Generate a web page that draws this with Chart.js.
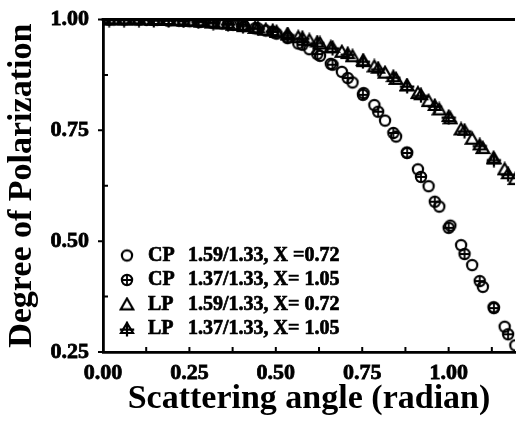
<!DOCTYPE html>
<html><head><meta charset="utf-8">
<script src="https://cdn.jsdelivr.net/npm/chart.js@4"></script>
<style>html,body{margin:0;padding:0;background:#fff;overflow:hidden}</style>
</head><body>
<canvas id="c" width="520" height="429"></canvas>
<script>
// ---- data ----
const SERIES_LABELS = [
  "CP 1.59/1.33, X =0.72",
  "CP 1.37/1.33, X= 1.05",
  "LP 1.59/1.33, X= 0.72",
  "LP 1.37/1.33, X= 1.05"
];
// X = 0.72 series (denser sampling)
const ANGLE_A = [0.000,0.031,0.063,0.094,0.126,0.157,0.188,0.220,0.251,0.283,0.314,0.345,0.377,0.408,0.440,0.471,0.502,0.534,0.565,0.597,0.628,0.659,0.691,0.722,0.754,0.785,0.816,0.848,0.879,0.911,0.942,0.973,1.005,1.036,1.068,1.099,1.130,1.162,1.193];
const CP_159 = [1.000,1.000,1.000,1.000,0.999,0.999,0.998,0.997,0.996,0.995,0.993,0.991,0.988,0.985,0.980,0.975,0.968,0.958,0.946,0.933,0.918,0.900,0.882,0.858,0.834,0.807,0.772,0.736,0.700,0.662,0.624,0.578,0.535,0.491,0.446,0.397,0.351,0.307,0.265];
const LP_159 = [1.000,1.000,1.000,1.000,1.000,0.999,0.999,0.998,0.997,0.995,0.993,0.991,0.988,0.985,0.981,0.977,0.972,0.966,0.960,0.953,0.946,0.937,0.927,0.917,0.906,0.894,0.880,0.866,0.851,0.834,0.816,0.797,0.777,0.752,0.731,0.710,0.688,0.662,0.640];
// X = 1.05 series
const ANGLE_B = [0.018,0.061,0.104,0.147,0.190,0.233,0.276,0.319,0.362,0.405,0.448,0.491,0.534,0.577,0.620,0.664,0.708,0.752,0.796,0.840,0.880,0.920,0.960,1.000,1.046,1.090,1.131,1.172];
const CP_137 = [1.000,1.000,1.000,0.999,0.998,0.997,0.995,0.993,0.990,0.988,0.980,0.972,0.960,0.943,0.922,0.898,0.868,0.830,0.792,0.744,0.699,0.645,0.589,0.530,0.471,0.410,0.349,0.290];
const LP_137 = [1.000,1.000,1.000,0.999,0.999,0.998,0.996,0.993,0.990,0.986,0.980,0.974,0.966,0.958,0.948,0.936,0.922,0.906,0.889,0.870,0.850,0.829,0.805,0.780,0.749,0.716,0.684,0.651];

const X_TICKS = [0, 0.25, 0.5, 0.75, 1.0];
const X_MINOR = [0.125, 0.375, 0.625, 0.875, 1.125];
const Y_TICKS = [0.25, 0.5, 0.75, 1.0];
const Y_MINOR = [0.375, 0.625, 0.875];
const X_TITLE = "Scattering angle (radian)";
const Y_TITLE = "Degree of Polarization";

// ---- marker glyphs ----
function glyph(draw){
  const c = document.createElement('canvas');
  c.width = 16; c.height = 16;
  const g = c.getContext('2d');
  g.strokeStyle = '#000'; g.fillStyle = '#000'; g.lineWidth = 2.2;
  draw(g);
  return c;
}
const G_CIRCLE = glyph(g => { g.beginPath(); g.arc(8,8,5.1,0,Math.PI*2); g.stroke(); });
const G_CCROSS = glyph(g => { g.beginPath(); g.arc(8,8,5.1,0,Math.PI*2); g.stroke();
  g.lineWidth = 1.8; g.beginPath(); g.moveTo(8,3); g.lineTo(8,13); g.moveTo(3,8); g.lineTo(13,8); g.stroke(); });
const G_TRI = glyph(g => { g.beginPath(); g.moveTo(8,2); g.lineTo(14.2,12.8); g.lineTo(1.8,12.8); g.closePath(); g.stroke(); });
const G_TCROSS = glyph(g => { g.beginPath(); g.moveTo(8,2); g.lineTo(14,12); g.lineTo(2,12); g.closePath(); g.stroke();
  g.beginPath(); g.moveTo(8,0.8); g.lineTo(8,15.5); g.moveTo(0.8,8.6); g.lineTo(15.2,8.6); g.stroke(); });
const GLYPHS = [G_CIRCLE, G_CCROSS, G_TRI, G_TCROSS];

function pts(xs, ys){ return xs.map((x,i)=>({x:x, y:ys[i]})); }

const FONT = "'Liberation Serif','Times New Roman',serif";

const frame = {
  id: 'frame',
  afterDatasetsDraw(chart){
    const {ctx, chartArea:a, scales} = chart;
    const x = scales.x, y = scales.y;
    ctx.save();
    ctx.strokeStyle = '#000';
    ctx.lineWidth = 2.8;
    ctx.beginPath(); ctx.moveTo(a.left-1.4, a.top); ctx.lineTo(a.right, a.top); ctx.stroke();
    ctx.lineWidth = 2;
    ctx.beginPath();
    X_TICKS.concat(X_MINOR).forEach(v => { const px = x.getPixelForValue(v); ctx.moveTo(px, a.bottom); ctx.lineTo(px, a.bottom-5); });
    Y_TICKS.forEach(v => { const py = y.getPixelForValue(v); ctx.moveTo(a.left, py); ctx.lineTo(a.left-5, py); });
    Y_MINOR.forEach(v => { const py = y.getPixelForValue(v); ctx.moveTo(a.left, py); ctx.lineTo(a.left+5, py); });
    ctx.stroke();
    // legend inside plot area
    ctx.fillStyle = '#000';
    ctx.strokeStyle = '#000';
    ctx.lineWidth = 0.7;
    ctx.font = "bold 20px " + FONT;
    ctx.textBaseline = 'middle';
    const x0 = a.left + 24, y0 = a.top + 236, dy = 24.5;
    SERIES_LABELS.forEach((lab, i) => {
      const yy = y0 + i*dy;
      ctx.drawImage(GLYPHS[i], x0-8, yy-8);
      const sp = lab.indexOf(' ');
      const t1 = lab.slice(0, sp), t2 = lab.slice(sp+1);
      ctx.fillText(t1, a.left + 45, yy); ctx.strokeText(t1, a.left + 45, yy);
      ctx.fillText(t2, a.left + 85, yy); ctx.strokeText(t2, a.left + 85, yy);
    });
    ctx.restore();
  }
};

new Chart(document.getElementById('c'), {
  type: 'scatter',
  data: {
    datasets: [
      {label: SERIES_LABELS[0], data: pts(ANGLE_A, CP_159), pointStyle: G_CIRCLE},
      {label: SERIES_LABELS[1], data: pts(ANGLE_B, CP_137), pointStyle: G_CCROSS},
      {label: SERIES_LABELS[2], data: pts(ANGLE_A, LP_159), pointStyle: G_TRI},
      {label: SERIES_LABELS[3], data: pts(ANGLE_B, LP_137), pointStyle: G_TCROSS}
    ]
  },
  options: {
    responsive: false,
    animation: false,
    devicePixelRatio: 1,
    layout: {padding: {top: 19.5, right: 0, bottom: 0, left: 0}},
    plugins: {legend: {display: false}, tooltip: {enabled: false}},
    scales: {
      x: {
        type: 'linear', min: 0, max: 1.192,
        afterBuildTicks: s => { s.ticks = X_TICKS.map(v => ({value: v})); },
        afterFit: s => { s.height = 77; s.paddingLeft = 0; s.paddingRight = 0; },
        grid: {display: false, drawTicks: false},
        border: {display: true, color: '#000', width: 2.8},
        ticks: {color: '#000', padding: 8, maxRotation: 0, autoSkip: false,
                textStrokeColor: '#000', textStrokeWidth: 0.8,
                font: {family: FONT, size: 22, weight: 'bold'},
                callback: v => v.toFixed(2)},
        title: {display: true, text: X_TITLE, color: '#000',
                font: {family: FONT, size: 34, weight: 'bold'}, padding: {top: 0, bottom: 9}}
      },
      y: {
        type: 'linear', min: 0.25, max: 1.0,
        afterBuildTicks: s => { s.ticks = Y_TICKS.map(v => ({value: v})); },
        afterFit: s => { s.width = 103; s.paddingTop = 0; s.paddingBottom = 0; },
        grid: {display: false, drawTicks: false},
        border: {display: true, color: '#000', width: 2.8},
        ticks: {color: '#000', padding: 14, autoSkip: false,
                textStrokeColor: '#000', textStrokeWidth: 0.8,
                font: {family: FONT, size: 22, weight: 'bold'},
                callback: v => v.toFixed(2)},
        title: {display: true, text: Y_TITLE, color: '#000',
                font: {family: FONT, size: 34, weight: 'bold'}, padding: {top: 2, bottom: 0}}
      }
    }
  },
  plugins: [frame]
});
</script>
</body></html>
